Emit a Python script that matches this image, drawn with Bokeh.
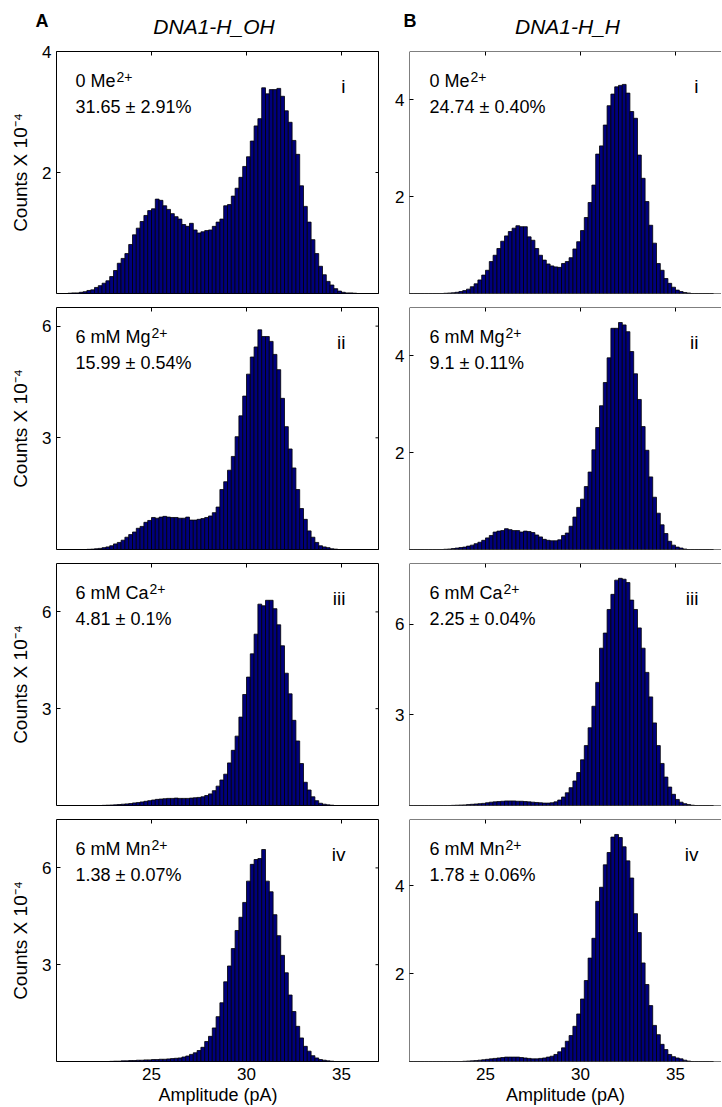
from bokeh.plotting import figure
from bokeh.models import Range1d, FixedTicker, LinearAxis, Label, Span
from bokeh.core.properties import value
from bokeh.layouts import column, row
from bokeh.embed import file_html
from bokeh.resources import INLINE
import numpy as np

FONT = "Liberation Sans"

# histogram bin centres (pA), 0.2 pA bins
bin_centers = np.round(20.1 + 0.2 * np.arange(85), 1)

# Counts x 10^-4 (bins 20.1 ... 36.9)
A_i = [0, 0, 0, 0.005, 0.01, 0.01, 0.02, 0.03, 0.05, 0.06,
       0.10, 0.13, 0.17, 0.21, 0.28, 0.38, 0.50, 0.58, 0.66, 0.81,
       0.97, 1.08, 1.19, 1.29, 1.37, 1.40, 1.56, 1.54, 1.45, 1.39,
       1.32, 1.27, 1.23, 1.14, 1.11, 1.16, 1.05, 1.00, 1.02, 1.04,
       1.05, 1.11, 1.18, 1.23, 1.45, 1.47, 1.61, 1.74, 1.92, 2.10,
       2.26, 2.52, 2.77, 2.89, 3.40, 3.30, 3.37, 3.37, 3.39, 3.26,
       3.02, 2.83, 2.53, 2.30, 1.78, 1.44, 1.18, 0.89, 0.66, 0.45,
       0.31, 0.20, 0.14, 0.08, 0.04, 0.02, 0.01, 0.01, 0.005, 0,
       0, 0, 0, 0, 0]
A_ii = [0, 0, 0, 0, 0, 0, 0, 0, 0.005, 0.01,
        0.02, 0.03, 0.05, 0.07, 0.10, 0.15, 0.19, 0.25, 0.33, 0.40,
        0.47, 0.57, 0.62, 0.73, 0.78, 0.86, 0.84, 0.87, 0.89, 0.87,
        0.86, 0.86, 0.84, 0.84, 0.87, 0.79, 0.79, 0.81, 0.83, 0.86,
        0.90, 0.99, 1.14, 1.61, 1.82, 2.13, 2.50, 3.03, 3.59, 4.12,
        4.71, 5.17, 5.44, 5.90, 5.72, 5.72, 5.59, 5.24, 4.83, 4.06,
        3.30, 2.70, 2.19, 1.61, 1.10, 0.81, 0.50, 0.33, 0.19, 0.10,
        0.07, 0.05, 0.02, 0.01, 0, 0, 0, 0, 0, 0,
        0, 0, 0, 0, 0]
A_iii = [0, 0, 0, 0, 0, 0, 0, 0, 0, 0,
         0, 0, 0.005, 0.01, 0.015, 0.02, 0.03, 0.04, 0.05, 0.06,
         0.08, 0.09, 0.11, 0.13, 0.15, 0.17, 0.19, 0.20, 0.21, 0.22,
         0.22, 0.23, 0.22, 0.22, 0.22, 0.23, 0.24, 0.25, 0.27, 0.31,
         0.36, 0.46, 0.60, 0.79, 0.97, 1.32, 1.71, 2.15, 2.74, 3.44,
         3.98, 4.70, 5.31, 6.24, 6.19, 6.36, 6.36, 6.10, 5.60, 4.95,
         4.10, 3.46, 2.64, 2.00, 1.30, 0.72, 0.48, 0.27, 0.15, 0.07,
         0.04, 0.02, 0.01, 0, 0, 0, 0, 0, 0, 0,
         0, 0, 0, 0, 0]
A_iv = [0, 0, 0, 0, 0, 0, 0, 0, 0, 0,
        0, 0, 0, 0, 0.005, 0.01, 0.01, 0.02, 0.02, 0.03,
        0.03, 0.04, 0.04, 0.05, 0.05, 0.06, 0.06, 0.07, 0.07, 0.08,
        0.09, 0.10, 0.11, 0.14, 0.17, 0.22, 0.27, 0.34, 0.44, 0.62,
        0.78, 1.04, 1.39, 1.82, 2.47, 2.96, 3.50, 4.06, 4.47, 4.93,
        5.59, 6.11, 6.26, 6.29, 6.57, 5.59, 5.26, 4.55, 3.90, 3.29,
        2.75, 2.06, 1.55, 1.09, 0.73, 0.47, 0.32, 0.18, 0.11, 0.06,
        0.04, 0.02, 0.01, 0, 0, 0, 0, 0, 0, 0,
        0, 0, 0, 0, 0]
B_i = [0, 0, 0, 0, 0, 0, 0, 0, 0, 0,
       0, 0, 0, 0, 0.005, 0.01, 0.015, 0.025, 0.04, 0.06,
       0.09, 0.14, 0.20, 0.28, 0.38, 0.48, 0.66, 0.79, 0.93, 1.08,
       1.19, 1.28, 1.35, 1.40, 1.38, 1.38, 1.17, 1.10, 0.93, 0.79,
       0.69, 0.61, 0.57, 0.55, 0.54, 0.62, 0.66, 0.74, 0.92, 1.07,
       1.30, 1.57, 1.88, 2.24, 2.88, 3.05, 3.48, 3.88, 4.12, 4.27,
       4.30, 4.32, 4.14, 3.76, 3.62, 2.86, 2.38, 1.90, 1.41, 1.04,
       0.62, 0.48, 0.31, 0.21, 0.13, 0.07, 0.04, 0.02, 0.01, 0,
       0, 0, 0, 0, 0]
B_ii = [0, 0, 0, 0, 0, 0, 0, 0, 0, 0,
        0, 0, 0, 0, 0.005, 0.01, 0.02, 0.03, 0.04, 0.05,
        0.07, 0.09, 0.12, 0.15, 0.19, 0.24, 0.29, 0.36, 0.38, 0.39,
        0.43, 0.41, 0.39, 0.39, 0.36, 0.38, 0.37, 0.35, 0.30, 0.26,
        0.21, 0.19, 0.18, 0.18, 0.20, 0.29, 0.34, 0.48, 0.67, 0.87,
        1.04, 1.30, 1.60, 2.06, 2.52, 2.97, 3.45, 3.96, 4.57, 4.57,
        4.69, 4.64, 4.50, 4.09, 3.63, 3.10, 2.54, 2.05, 1.50, 1.08,
        0.75, 0.51, 0.33, 0.17, 0.09, 0.05, 0.03, 0.01, 0, 0,
        0, 0, 0, 0, 0]
B_iii = [0, 0, 0, 0, 0, 0, 0, 0, 0, 0,
         0, 0, 0, 0, 0, 0, 0.005, 0.01, 0.015, 0.02,
         0.03, 0.04, 0.05, 0.06, 0.07, 0.09, 0.11, 0.12, 0.13, 0.14,
         0.15, 0.15, 0.15, 0.14, 0.14, 0.13, 0.12, 0.11, 0.10, 0.09,
         0.08, 0.08, 0.09, 0.12, 0.18, 0.28, 0.42, 0.59, 0.81, 1.09,
         1.51, 1.98, 2.57, 3.28, 4.07, 5.20, 5.70, 6.48, 6.98, 7.45,
         7.51, 7.48, 7.37, 6.79, 6.48, 5.87, 5.20, 4.40, 3.59, 2.73,
         1.98, 1.39, 0.94, 0.61, 0.37, 0.20, 0.11, 0.06, 0.03, 0.01,
         0, 0, 0, 0, 0]
B_iv = [0, 0, 0, 0, 0, 0, 0, 0, 0, 0,
        0, 0, 0, 0, 0, 0, 0, 0, 0, 0.005,
        0.01, 0.015, 0.02, 0.03, 0.04, 0.05, 0.06, 0.07, 0.08, 0.09,
        0.10, 0.10, 0.10, 0.10, 0.09, 0.08, 0.07, 0.06, 0.06, 0.07,
        0.08, 0.10, 0.12, 0.16, 0.22, 0.31, 0.46, 0.59, 0.80, 1.08,
        1.42, 1.84, 2.35, 2.80, 3.64, 3.96, 4.47, 4.75, 5.10, 5.16,
        5.09, 4.88, 4.56, 4.17, 3.36, 2.93, 2.24, 1.75, 1.27, 0.82,
        0.61, 0.39, 0.27, 0.16, 0.11, 0.08, 0.06, 0.03, 0.01, 0,
        0, 0, 0, 0, 0]

col_titles = ["DNA1-H_OH", "DNA1-H_H"]
col_letters = ["A", "B"]
ion_names = ["0 Me", "6 mM Mg", "6 mM Ca", "6 mM Mn"]
charge = "2+"
pct_A = ["31.65 \u00b1 2.91%", "15.99 \u00b1 0.54%", "4.81 \u00b1 0.1%", "1.38 \u00b1 0.07%"]
pct_B = ["24.74 \u00b1 0.40%", "9.1 \u00b1 0.11%", "2.25 \u00b1 0.04%", "1.78 \u00b1 0.06%"]
numerals = ["i", "ii", "iii", "iv"]
ymax_A = [4, 6.5, 7.5, 7.5]
ymax_B = [5, 5, 8, 5.5]
yticks_A = [[2, 4], [3, 6], [3, 6], [3, 6]]
yticks_B = [[2, 4], [2, 4], [3, 6], [2, 4]]
xticks = [25, 30, 35]
x_label = "Amplitude (pA)"
y_label = "Counts X 10\u207b\u2074"

# Arial / Liberation Sans advance widths (em)
W = {"0": .556, "6": .556, " ": .278, "M": .833, "m": .833, "e": .556,
     "g": .556, "C": .722, "a": .556, "n": .556}


def text_w(s, fs):
    return sum(W.get(c, .556) for c in s) * fs


FH = 242          # frame height
FW = [323, 312]   # frame widths (left col, right col)
XR = [(20, 37), (21, 21 + 312 / 19.0)]
ANN = 18
TICK = 4


def make_panel(vals, col, r):
    left = col == 0
    fw = FW[col]
    xr = XR[col]
    ymax = (ymax_A if left else ymax_B)[r]
    yt = (yticks_A if left else yticks_B)[r]
    p = figure(frame_width=fw, frame_height=FH,
               x_range=Range1d(*xr), y_range=Range1d(0, ymax),
               output_backend="svg", toolbar_location=None,
               x_axis_location=None, y_axis_location=None,
               min_border_left=56 if left else 30, min_border_right=0,
               min_border_top=7, min_border_bottom=44 if r == 3 else 7,
               background_fill_color="white", border_fill_color="white")
    p.grid.grid_line_color = None
    if left:
        p.outline_line_color = "black"
        p.outline_line_width = 1
    else:
        p.outline_line_color = None
        for loc, dim in [(0, "width"), (ymax, "width"), (xr[0], "height")]:
            p.add_layout(Span(location=loc, dimension=dim, line_color="black",
                              line_width=1))

    p.vbar(x=bin_centers, width=0.2, top=vals, bottom=0,
           fill_color="#00007c", line_color="black", line_width=0.8)

    # inward ticks on the top edge (and the right edge for the left column)
    dy = TICK * ymax / FH
    p.segment(x0=xticks, y0=[ymax] * 3, x1=xticks, y1=[ymax - dy] * 3,
              line_color="black", line_width=1)
    if left:
        dx = TICK * (xr[1] - xr[0]) / fw
        p.segment(x0=[xr[1]] * len(yt), y0=yt, x1=[xr[1] - dx] * len(yt), y1=yt,
                  line_color="black", line_width=1)

    yl = LinearAxis(ticker=FixedTicker(ticks=yt), major_tick_in=TICK, major_tick_out=0,
                    minor_tick_in=0, minor_tick_out=0, axis_line_color=None,
                    major_tick_line_color="black",
                    major_label_text_font=FONT, major_label_text_font_size="17px",
                    major_label_text_color="black", major_label_standoff=5)
    if left:
        yl.axis_label = y_label
        yl.axis_label_text_font = FONT
        yl.axis_label_text_font_size = "19px"
        yl.axis_label_text_font_style = "normal"
        yl.axis_label_text_color = "black"
        yl.axis_label_standoff = 8
    p.add_layout(yl, "left")

    if r == 3:
        xb = LinearAxis(ticker=FixedTicker(ticks=xticks), major_tick_in=0, major_tick_out=0,
                        minor_tick_in=0, minor_tick_out=0, axis_line_color=None,
                        major_label_text_font=FONT, major_label_text_font_size="17px",
                        major_label_text_color="black", major_label_standoff=6,
                        axis_label=x_label, axis_label_text_font=FONT,
                        axis_label_text_font_size="18px",
                        axis_label_text_font_style="normal",
                        axis_label_text_color="black", axis_label_standoff=2)
        p.add_layout(xb, "below")

    # annotations (screen units from the frame)
    ax = 19 if left else 20
    name = ion_names[r]
    p.add_layout(Label(x=ax, y=FH - 29, x_units="screen", y_units="screen", text=name,
                       text_font=FONT, text_font_size=f"{ANN}px", text_color="black",
                       text_baseline="alphabetic"))
    p.add_layout(Label(x=ax + text_w(name, ANN) + 1, y=FH - 25, x_units="screen",
                       y_units="screen", text=charge, text_font=FONT,
                       text_font_size="14px", text_color="black",
                       text_baseline="alphabetic"))
    pct = (pct_A if left else pct_B)[r]
    p.add_layout(Label(x=ax, y=FH - 55, x_units="screen", y_units="screen", text=pct,
                       text_font=FONT, text_font_size=f"{ANN}px", text_color="black",
                       text_baseline="alphabetic"))
    p.add_layout(Label(x=289, y=FH - 35, x_units="screen", y_units="screen",
                       text=numerals[r], text_font=FONT, text_font_size="19px",
                       text_color="black", text_align="right",
                       text_baseline="alphabetic"))
    return p


# header strip with the column letters and titles
HW = 56 + FW[0] + 30 + FW[1]
header = figure(width=HW, height=44, x_range=Range1d(0, HW), y_range=Range1d(0, 44),
                output_backend="svg", toolbar_location=None,
                x_axis_location=None, y_axis_location=None,
                min_border_left=0, min_border_right=0, min_border_top=0,
                min_border_bottom=0, outline_line_color=None)
header.grid.grid_line_color = None
header.text(x=[35, 403], y=[24, 24], text=col_letters, text_font=value(FONT),
            text_font_size="18px", text_font_style="bold", text_color="black",
            text_baseline="alphabetic", text_align="left")
header.text(x=[56 + FW[0] / 2 - 4, 409 + 158], y=[18, 18], text=col_titles,
            text_font=value(FONT), text_font_size="21px", text_font_style="italic",
            text_color="black", text_baseline="alphabetic", text_align="center")

A_vals = [A_i, A_ii, A_iii, A_iv]
B_vals = [B_i, B_ii, B_iii, B_iv]
rows = [row(make_panel(A_vals[r], 0, r), make_panel(B_vals[r], 1, r)) for r in range(4)]
layout = column(header, *rows)

open("out.html", "w").write(file_html(layout, INLINE))
